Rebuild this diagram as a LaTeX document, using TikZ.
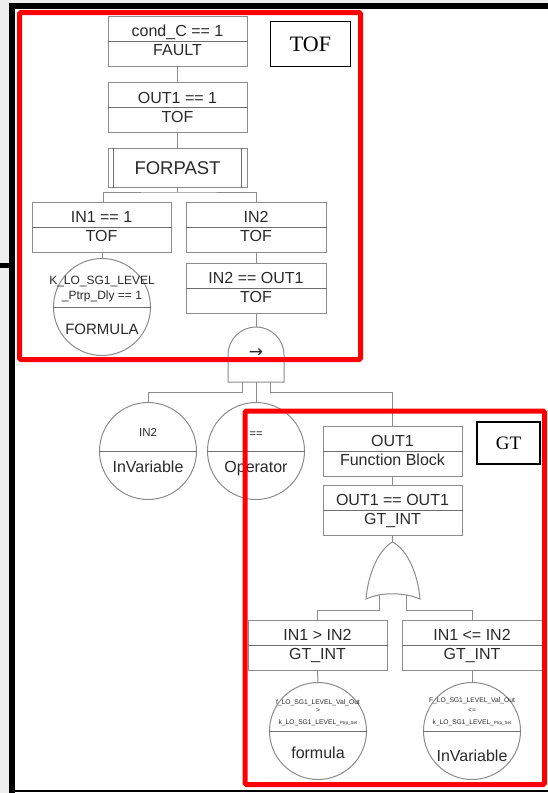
\documentclass[tikz,border=0pt]{standalone}
\usepackage{fontspec}
\newfontfamily\dv{Liberation Sans}
\newfontfamily\arr{DejaVu Sans}
\newfontfamily\tnr{Liberation Serif}
\definecolor{boxgray}{HTML}{8C8C8C}
\definecolor{divgray}{HTML}{6E6E6E}
\definecolor{txt}{HTML}{2A2A2A}
\definecolor{redframe}{HTML}{FF0000}
\definecolor{clutter}{HTML}{EEEEEE}
\tikzset{
  fbox/.style={draw=boxgray, line width=1pt, minimum width=139pt, minimum height=50pt, inner sep=0pt},
  circ/.style={circle, draw=boxgray, line width=1pt, minimum size=97pt, inner sep=0pt},
  conn/.style={draw=boxgray, line width=1pt},
  divl/.style={draw=divgray, line width=1pt},
  btxt/.style={text=txt, anchor=base, inner sep=0pt, font=\dv\fontsize{16}{18}\selectfont},
  stxt/.style={text=txt, anchor=base, inner sep=0pt, font=\dv\fontsize{11.5}{13}\selectfont},
  ttxt/.style={text=txt, anchor=base, inner sep=0pt, font=\dv\fontsize{6.7}{7}\selectfont},
  redbox/.style={draw=redframe, line width=5pt, rounded corners=1.5pt},
  lbl/.style={draw=black, line width=1.6pt, inner sep=0pt, font=\tnr},
}
\begin{document}
\begin{tikzpicture}[x=1pt,y=-1pt]
\useasboundingbox (0,0) rectangle (548,793);
\fill[white] (0,0) rectangle (548,793);
% screenshot clutter at the left
\fill[clutter] (0,0) rectangle (9,793);
\fill[clutter] (0,0) rectangle (548,3);
\fill[black] (0,263) rectangle (9,268);
% black window frame
\fill[black] (9,3) rectangle (14.5,793);
\fill[black] (9,3) rectangle (548,8.5);
\fill[black] (9,789.5) rectangle (548,791.5);

% ---------- TOF part ----------
\node[fbox] (b1) at (177.5,41) {};
\node[fbox] (b2) at (177.5,107) {};
\node[fbox, minimum height=39pt] (b3) at (177.5,167.5) {};
\node[fbox] (b4) at (101.5,227) {};
\node[fbox, minimum width=140pt] (b5) at (256,227) {};
\node[fbox, minimum width=140pt] (b6) at (256,288) {};
\node[circ] (c1) at (102,307) {};

\foreach \b in {b1,b2,b4,b5,b6,c1} {\draw[divl] (\b.west) -- (\b.east);}
\draw[divl] ([xshift=6pt]b3.north west) -- ([xshift=6pt]b3.south west);
\draw[divl] ([xshift=-6pt]b3.north east) -- ([xshift=-6pt]b3.south east);

\node[btxt] at ([yshift=5pt]b1.center) {cond\_C == 1};
\node[btxt] at ([yshift=-14pt]b1.center) {FAULT};
\node[btxt] at ([yshift=4pt]b2.center) {OUT1 == 1};
\node[btxt] at ([yshift=-15pt]b2.center) {TOF};
\node[btxt, font=\dv\fontsize{18.5}{20}\selectfont] at ([yshift=-6.5pt]b3.center) {FORPAST};
\node[btxt] at ([yshift=5pt]b4.center) {IN1 == 1};
\node[btxt] at ([yshift=-14pt]b4.center) {TOF};
\node[btxt] at ([yshift=5pt]b5.center) {IN2};
\node[btxt] at ([yshift=-14pt]b5.center) {TOF};
\node[btxt] at ([yshift=5pt]b6.center) {IN2 == OUT1};
\node[btxt] at ([yshift=-14pt]b6.center) {TOF};
\node[stxt, font=\dv\fontsize{12}{13}\selectfont] at ([yshift=23pt]c1.center) {K\_LO\_SG1\_LEVEL};
\node[stxt, font=\dv\fontsize{12}{13}\selectfont] at ([yshift=8pt]c1.center) {\_Ptrp\_Dly == 1};
\node[btxt, font=\dv\fontsize{15}{16}\selectfont] at ([yshift=-27.5pt]c1.center) {FORMULA};

\coordinate (j1) at (177.5,192);
\draw[conn] (b1.south) -- (b2.north);
\draw[conn] (b2.south) -- (b3.north);
\draw[conn] (b3.south) -- (j1);
\draw[conn] ([xshift=1.5pt]b4.north) |- (j1) -| (b5.north);
\draw[conn] ([xshift=0.5pt]b4.south) -- (c1.north);
\draw[conn] (b5.south) -- (b6.north);

% AND gate with arrow
\coordinate (gtop) at (256,327);
\coordinate (gl) at (242,382);
\coordinate (gc) at (256,382);
\coordinate (gr) at (270,382);
\node[circ] (c2) at (148,451) {};
\node[circ] (c3) at (256,451) {};
\node[fbox] (b7) at (392.5,451.5) {};
\node[fbox] (b8) at (392.5,510.5) {};
\draw[conn] (b6.south) -- (gtop);
\draw[conn] (gl) -- ++(0,10) -| (c2.north);
\draw[conn] (gc) -- (c3.north);
\draw[conn] (gr) -- ++(0,10) -| (b7.north);
\draw[conn, fill=white] (228,382) -- (228,355)
   .. controls (228,339.5) and (240.5,327) .. (gtop)
   .. controls (271.5,327) and (284,339.5) .. (284,355) -- (284,382) -- cycle;
\node[text=txt, inner sep=0pt, font=\arr\fontsize{17}{17}\selectfont] (arr) at (256,353) {→};

\foreach \b in {c2,c3,b7,b8} {\draw[divl] (\b.west) -- (\b.east);}
\node[stxt] at ([yshift=15pt]c2.center) {IN2};
\node[btxt] at ([yshift=-21pt]c2.center) {InVariable};
\node[stxt] at ([yshift=14pt]c3.center) {==};
\node[btxt] at ([yshift=-21pt]c3.center) {Operator};
\node[btxt] at ([yshift=5pt]b7.center) {OUT1};
\node[btxt] at ([yshift=-14pt]b7.center) {Function Block};
\node[btxt] at ([yshift=5pt]b8.center) {OUT1 == OUT1};
\node[btxt] at ([yshift=-14pt]b8.center) {GT\_INT};
\draw[conn] (b7.south) -- (b8.north);

% ---------- GT part ----------
\coordinate (otip) at (392.5,542);
\node[fbox] (b9) at (317.5,645) {};
\node[fbox, minimum width=140pt] (b10) at (472,645) {};
\node[circ] (c4) at (318,731) {};
\node[circ] (c5) at (472,731) {};
\draw[conn] (b8.south) -- (otip);
\draw[conn] (379,594) -- (379,610) -| (b9.north);
\draw[conn] (406,594) -- (406,610) -| (b10.north);
\draw[conn, fill=white] (otip)
   .. controls (378,550) and (368,575) .. (366,599)
   .. controls (381,592) and (404,592) .. (420,599)
   .. controls (418,575) and (408,550) .. (otip) -- cycle;
\draw[conn] (b9.south) -- (c4.north);
\draw[conn] (b10.south) -- (c5.north);
\foreach \b in {b9,b10,c4,c5} {\draw[divl] (\b.west) -- (\b.east);}
\node[btxt] at ([yshift=5pt]b9.center) {IN1 > IN2};
\node[btxt] at ([yshift=-14pt]b9.center) {GT\_INT};
\node[btxt] at ([yshift=5pt]b10.center) {IN1 <= IN2};
\node[btxt] at ([yshift=-14pt]b10.center) {GT\_INT};
\node[ttxt] at ([yshift=27pt]c4.center) {f\_LO\_SG1\_LEVEL\_Val\_Out};
\node[ttxt] at ([yshift=19pt]c4.center) {>};
\node[ttxt] at ([yshift=7pt]c4.center) {k\_LO\_SG1\_LEVEL\_{\fontsize{4.5}{5}\selectfont Ptrp\_Set}};
\node[btxt] at ([yshift=-27pt]c4.center) {formula};
\node[ttxt] at ([yshift=29pt]c5.center) {F\_LO\_SG1\_LEVEL\_Val\_Out};
\node[ttxt] at ([yshift=19pt]c5.center) {<=};
\node[ttxt] at ([yshift=7pt]c5.center) {k\_LO\_SG1\_LEVEL\_{\fontsize{4.5}{5}\selectfont Ptrp\_Set}};
\node[btxt] at ([yshift=-30pt]c5.center) {InVariable};

% red frames and labels
\draw[redbox] (19.5,12.5) rectangle (360.5,359.5);
\draw[redbox] (245,411) rectangle (544.5,784.5);
\node[lbl, minimum width=80pt, minimum height=45pt, font=\tnr\fontsize{22}{24}\selectfont] (tof) at (310.5,44) {TOF};
\node[lbl, minimum width=63pt, minimum height=42pt, font=\tnr\fontsize{19}{21}\selectfont] (gt) at (508.5,443) {GT};
\end{tikzpicture}
\end{document}
